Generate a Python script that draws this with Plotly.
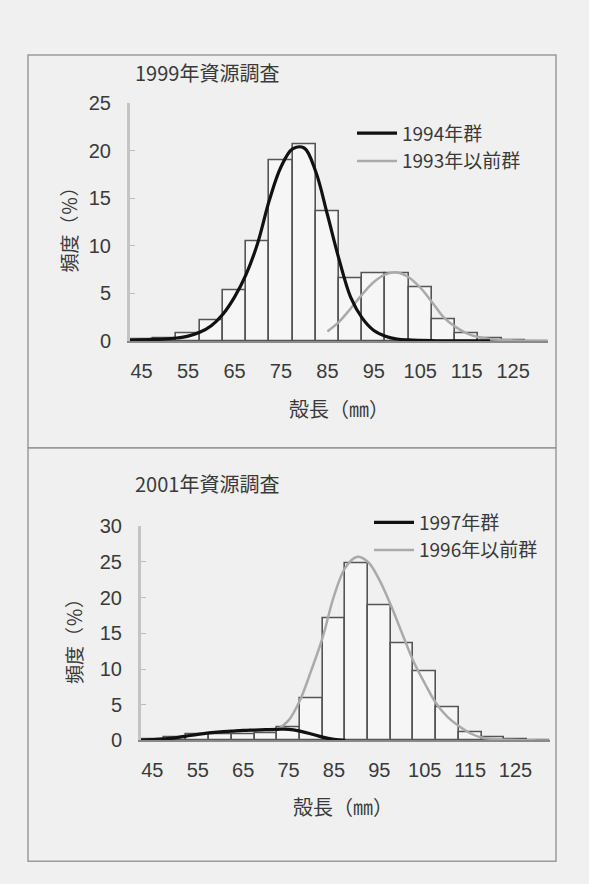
import plotly.graph_objects as go

# ---- data ----
bins = [45, 50, 55, 60, 65, 70, 75, 80, 85, 90, 95, 100, 105, 110, 115, 120, 125, 130]
freq_1999 = [0.2, 0.3, 0.8, 2.2, 5.3, 10.5, 19.0, 20.7, 13.6, 6.6, 7.1, 7.1, 5.6, 2.3, 0.8, 0.3, 0.1, 0.0]
freq_2001 = [0.1, 0.4, 0.8, 0.9, 0.9, 1.0, 1.8, 5.9, 17.1, 24.8, 18.9, 13.6, 9.7, 4.6, 1.1, 0.5, 0.1, 0.0]

x_1994 = [42.5, 45, 47.5, 50, 52.5, 55, 57.5, 60, 62.5, 65, 67.5, 70, 72.5, 75, 77.5, 80, 82.5,
          85, 87.5, 90, 92.5, 95, 97.5, 100, 102.5, 105, 107.5, 110, 115, 120]
y_1994 = [0.05, 0.1, 0.15, 0.2, 0.3, 0.5, 0.9, 1.6, 2.8, 4.6, 7.0, 10.3, 14.8, 18.3, 20.2, 20.3, 17.8,
          13.3, 8.6, 4.6, 2.4, 1.1, 0.5, 0.2, 0.1, 0.05, 0.02, 0.0, 0.0, 0.0]

x_1993 = [85, 87.5, 90, 92.5, 95, 97.5, 100, 102.5, 105, 107.5, 110, 112.5, 115, 117.5, 120,
          122.5, 125, 127.5, 130, 132.5]
y_1993 = [1.0, 2.0, 3.4, 4.9, 6.2, 7.0, 7.2, 6.7, 5.6, 4.1, 2.5, 1.5, 0.8, 0.4, 0.2,
          0.1, 0.05, 0.02, 0.0, 0.0]

x_1997 = [42.5, 45, 47.5, 50, 52.5, 55, 57.5, 60, 62.5, 65, 67.5, 70, 72.5, 75, 77.5, 80, 82.5, 85, 87.5]
y_1997 = [0.0, 0.1, 0.2, 0.35, 0.6, 0.85, 1.05, 1.2, 1.3, 1.4, 1.45, 1.5, 1.55, 1.55, 1.3, 0.9, 0.45, 0.15, 0.0]

x_1996 = [72.5, 75, 77.5, 80, 82.5, 85, 87.5, 90, 92.5, 95, 97.5, 100, 102.5, 105, 107.5, 110,
          112.5, 115, 117.5, 120, 122.5, 125, 127.5, 130, 132.5]
y_1996 = [1.5, 2.8, 5.6, 9.8, 14.4, 20.2, 24.2, 25.7, 25.0, 22.5, 19.0, 15.0, 11.1, 8.0, 5.2, 3.3,
          2.0, 1.0, 0.4, 0.2, 0.1, 0.05, 0.02, 0.0, 0.0]

x_ticks = [45, 55, 65, 75, 85, 95, 105, 115, 125]
x_ticktext = ["45", "55", "65", "75", "85", "95", "105", "115", "125"]

title_top = "1999年資源調査"
title_bottom = "2001年資源調査"
y_title = "頻度（％）"
x_title = "殻長（㎜）"
names_top = ["1994年群", "1993年以前群"]
names_bottom = ["1997年群", "1996年以前群"]

# ---- figure ----
W, H = 589, 884
BG = "#f0f0f0"
CJK = "Noto Sans CJK JP"
NUM = "Liberation Sans"
TXT = "#3a3a3a"

def px(x):
    return x / W

def py(y):
    return 1 - y / H

fig = go.Figure()

bar_style = dict(marker=dict(color="rgba(250,250,250,0.6)", line=dict(color="#555555", width=1.6)),
                 width=5, showlegend=False, hoverinfo="x+y")

fig.add_trace(go.Bar(x=bins, y=freq_1999, xaxis="x", yaxis="y", **bar_style))
fig.add_trace(go.Scatter(x=x_1993, y=y_1993, mode="lines", name=names_top[1],
                         line=dict(color="#aaaaaa", width=2.5, shape="spline"),
                         xaxis="x", yaxis="y", legend="legend", legendrank=2))
fig.add_trace(go.Scatter(x=x_1994, y=y_1994, mode="lines", name=names_top[0],
                         line=dict(color="#111111", width=3.2, shape="spline"),
                         xaxis="x", yaxis="y", legend="legend", legendrank=1))

fig.add_trace(go.Bar(x=bins, y=freq_2001, xaxis="x2", yaxis="y2", **bar_style))
fig.add_trace(go.Scatter(x=x_1996, y=y_1996, mode="lines", name=names_bottom[1],
                         line=dict(color="#aaaaaa", width=2.5, shape="spline"),
                         xaxis="x2", yaxis="y2", legend="legend2", legendrank=2))
fig.add_trace(go.Scatter(x=x_1997, y=y_1997, mode="lines", name=names_bottom[0],
                         line=dict(color="#111111", width=3.2, shape="spline"),
                         xaxis="x2", yaxis="y2", legend="legend2", legendrank=1))

xaxis_common = dict(range=[42.5, 132.5], tickvals=x_ticks, ticktext=x_ticktext,
                    showgrid=False, zeroline=False, showline=True, linecolor="#8a8a8a", linewidth=2,
                    ticks="", ticklabelstandoff=11,
                    tickfont=dict(family=NUM, size=20, color=TXT), fixedrange=True)
yaxis_common = dict(showgrid=False, zeroline=False, showline=True, linecolor="#c4c4c4", linewidth=3,
                    ticks="inside", ticklen=5, tickcolor="#bdbdbd", tickwidth=1,
                    ticklabelstandoff=12,
                    tickfont=dict(family=NUM, size=20, color=TXT), fixedrange=True)

fig.update_layout(
    width=W, height=H,
    margin=dict(l=0, r=0, t=0, b=0),
    paper_bgcolor=BG, plot_bgcolor="rgba(0,0,0,0)",
    bargap=0,
    xaxis=dict(domain=[px(130), px(548)], anchor="y", **xaxis_common),
    yaxis=dict(domain=[py(338.3), py(94.7)], anchor="x", range=[0, 25], dtick=5, **yaxis_common),
    xaxis2=dict(domain=[px(141), px(549.6)], anchor="y2", **xaxis_common),
    yaxis2=dict(domain=[py(748), py(528.4)], anchor="x2", range=[0, 30], dtick=5, **yaxis_common),
    legend=dict(x=px(352), y=py(106), xanchor="left", yanchor="top", bgcolor="rgba(0,0,0,0)",
                font=dict(family=CJK, size=19, color=TXT), tracegroupgap=0, itemwidth=40),
    legend2=dict(x=px(369), y=py(505), xanchor="left", yanchor="top", bgcolor="rgba(0,0,0,0)",
                 font=dict(family=CJK, size=19, color=TXT), tracegroupgap=0, itemwidth=40),
    showlegend=True,
)

ann_font = dict(family=CJK, size=20, color=TXT)
fig.add_annotation(text=title_top, xref="paper", yref="paper", x=px(133), y=py(63),
                   xanchor="left", yanchor="middle", showarrow=False, font=ann_font)
fig.add_annotation(text=title_bottom, xref="paper", yref="paper", x=px(133), y=py(485),
                   xanchor="left", yanchor="middle", showarrow=False, font=ann_font)
fig.add_annotation(text=y_title, xref="paper", yref="paper", x=px(69), y=py(220), textangle=-90,
                   xanchor="center", yanchor="middle", showarrow=False, font=dict(family=CJK, size=19, color=TXT))
fig.add_annotation(text=y_title, xref="paper", yref="paper", x=px(73), y=py(642), textangle=-90,
                   xanchor="center", yanchor="middle", showarrow=False, font=dict(family=CJK, size=19, color=TXT))
fig.add_annotation(text=x_title, xref="paper", yref="paper", x=px(339), y=py(408),
                   xanchor="center", yanchor="middle", showarrow=False, font=ann_font)
fig.add_annotation(text=x_title, xref="paper", yref="paper", x=px(343), y=py(816),
                   xanchor="center", yanchor="middle", showarrow=False, font=ann_font)

# panel frames
fig.add_shape(type="rect", xref="paper", yref="paper", x0=px(28), x1=px(556), y0=py(448), y1=py(45),
              line=dict(color="#9a9a9a", width=1.5), layer="below")
fig.add_shape(type="rect", xref="paper", yref="paper", x0=px(28), x1=px(556), y0=py(872), y1=py(448),
              line=dict(color="#9a9a9a", width=1.5), layer="below")

fig.write_html("out.html", config={"displayModeBar": False},
               post_script="document.body.style.margin='0';document.body.style.background='%s';" % BG)
